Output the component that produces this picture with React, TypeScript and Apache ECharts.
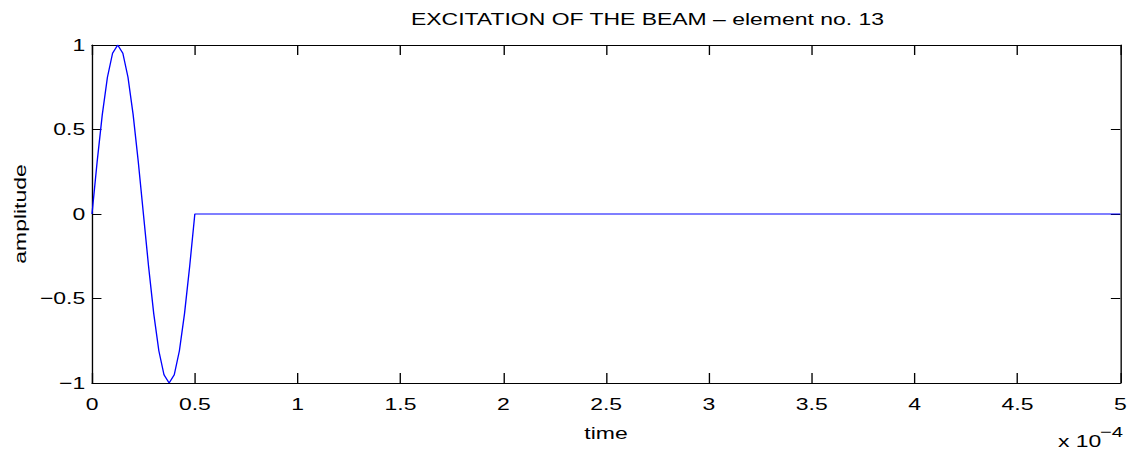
import React, { useEffect, useRef } from "react";
import * as echarts from "echarts";

// Excitation pulse: time in units of 1e-4 s, amplitude normalised to 1
const pulseTime = [
  0, 0.025, 0.05, 0.075, 0.1, 0.125, 0.15, 0.175, 0.2, 0.225, 0.25,
  0.275, 0.3, 0.325, 0.35, 0.375, 0.4, 0.425, 0.45, 0.475, 0.5, 5,
];
const pulseAmplitude = [
  0, 0.309, 0.588, 0.809, 0.951, 1, 0.951, 0.809, 0.588, 0.309, 0,
  -0.309, -0.588, -0.809, -0.951, -1, -0.951, -0.809, -0.588, -0.309, 0, 0,
];

const xTickLabels = ["0", "0.5", "1", "1.5", "2", "2.5", "3", "3.5", "4", "4.5", "5"];
const yTickLabels = ["\u22121", "\u22120.5", "0", "0.5", "1"];

const TITLE = "EXCITATION OF THE BEAM \u2013 element no. 13";
const X_NAME = "time";
const Y_NAME = "amplitude";

// The figure is drawn on a narrower canvas and widened horizontally,
// which gives the wide lettering of the horizontal texts
const PAGE_W = 1131;
const PAGE_H = 455;
const STRETCH = 1.35;
const CHART_W = PAGE_W / STRETCH;

const FONT = "'Liberation Sans', Arial, Helvetica, sans-serif";
const FS = 17;

export default function App() {
  const ref = useRef<HTMLDivElement>(null);

  useEffect(() => {
    if (!ref.current) return;
    const chart = echarts.init(ref.current, undefined, { renderer: "svg" });

    const gridLeft = 92 / STRETCH;
    const gridRight = CHART_W - 1120 / STRETCH;
    const plotCenter = (gridLeft + (CHART_W - gridRight)) / 2;

    const axisLine = { show: true, onZero: false, lineStyle: { color: "#000", width: 1 } };
    const xTick = { show: true, inside: true, length: 10, lineStyle: { color: "#000", width: 1 } };
    const yTick = { show: true, inside: true, length: 7, lineStyle: { color: "#000", width: 1 } };

    const xBase = { type: "value" as const, min: 0, max: 5, interval: 0.5, splitLine: { show: false } };
    const yBase = { type: "value" as const, min: -1, max: 1, interval: 0.5, splitLine: { show: false } };

    chart.setOption({
      animation: false,
      backgroundColor: "#fff",
      textStyle: { fontFamily: FONT },
      grid: { left: gridLeft, right: gridRight, top: 45, bottom: 72, containLabel: false },
      xAxis: [
        {
          ...xBase,
          position: "bottom",
          axisLine,
          axisTick: xTick,
          axisLabel: {
            show: true,
            margin: 13,
            color: "#000",
            fontSize: FS,
            fontFamily: FONT,
            formatter: (v: number) => xTickLabels[Math.round(v / 0.5)] ?? "",
          },
        },
        {
          ...xBase,
          position: "top",
          axisLine,
          axisTick: xTick,
          axisLabel: { show: false },
        },
      ],
      yAxis: [
        {
          ...yBase,
          position: "left",
          axisLine,
          axisTick: yTick,
          axisLabel: {
            show: true,
            margin: 5,
            color: "#000",
            fontSize: FS,
            fontFamily: FONT,
            padding: [4, 0, 0, 0],
            formatter: (v: number) => yTickLabels[Math.round((v + 1) / 0.5)] ?? "",
          },
        },
        {
          ...yBase,
          position: "right",
          axisLine,
          axisTick: yTick,
          axisLabel: { show: false },
        },
      ],
      series: [
        {
          type: "line",
          data: pulseTime.map((t, i) => [t, pulseAmplitude[i]]),
          showSymbol: false,
          symbol: "none",
          lineStyle: { color: "#0000ff", width: 1 },
          itemStyle: { color: "#0000ff" },
          clip: true,
        },
      ],
      graphic: [
        {
          type: "text",
          x: 647.5 / STRETCH,
          y: 18.7,
          style: { text: TITLE, fill: "#000", font: `${FS}px ${FONT}`, align: "center", verticalAlign: "middle" },
        },
        {
          type: "text",
          x: plotCenter,
          y: 433,
          style: { text: X_NAME, fill: "#000", font: `${FS}px ${FONT}`, align: "center", verticalAlign: "middle" },
        },
        {
          // vertical label: widen along its own direction, keep its thickness
          type: "text",
          x: 20 / STRETCH,
          y: 214,
          rotation: Math.PI / 2,
          scaleX: STRETCH,
          scaleY: 1 / STRETCH,
          style: { text: Y_NAME, fill: "#000", font: `${FS}px ${FONT}`, align: "center", verticalAlign: "middle" },
        },
        {
          type: "text",
          x: 1058 / STRETCH,
          y: 441,
          style: { text: "x 10", fill: "#000", font: `${FS}px ${FONT}`, align: "left", verticalAlign: "middle" },
        },
        {
          type: "text",
          x: 1100 / STRETCH,
          y: 432,
          style: { text: "\u22124", fill: "#000", font: `15px ${FONT}`, align: "left", verticalAlign: "middle" },
        },
      ],
    });

    return () => chart.dispose();
  }, []);

  return (
    <div
      style={{
        position: "fixed",
        left: 0,
        top: 0,
        width: PAGE_W,
        height: PAGE_H,
        overflow: "hidden",
        background: "#fff",
      }}
    >
      <div
        ref={ref}
        style={{
          width: CHART_W,
          height: PAGE_H,
          transform: `scaleX(${STRETCH})`,
          transformOrigin: "0 0",
        }}
      />
    </div>
  );
}
